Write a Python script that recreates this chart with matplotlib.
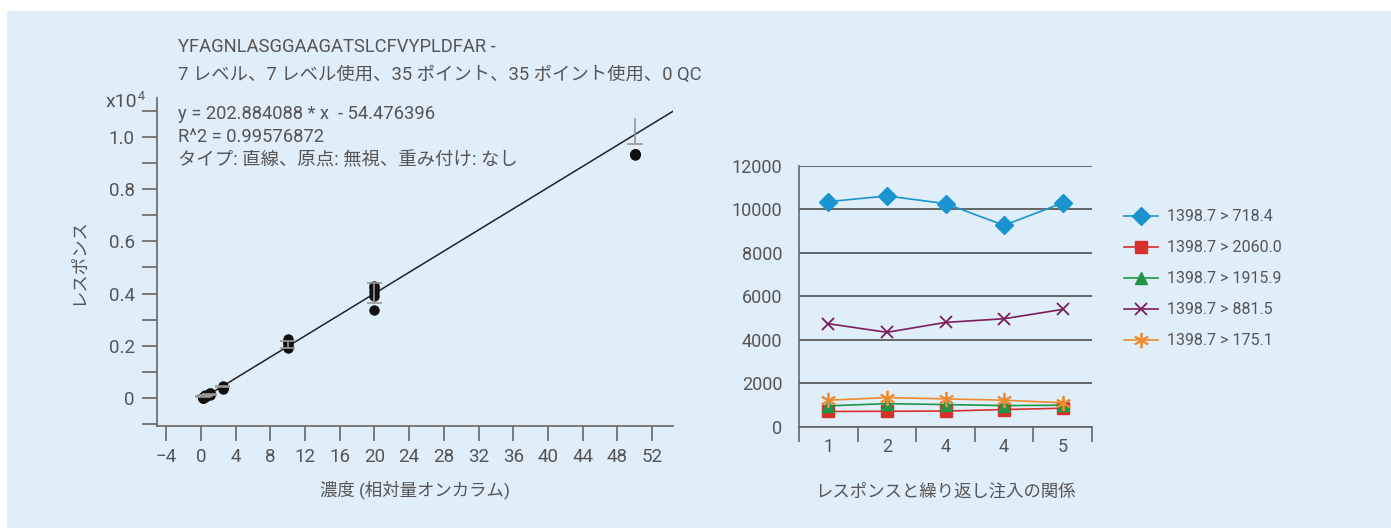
import numpy as np
import matplotlib
matplotlib.use('Agg')
import matplotlib.pyplot as plt
from matplotlib.patches import Rectangle
from matplotlib.ticker import MultipleLocator, FixedLocator, NullFormatter, FixedFormatter

plt.rcParams['font.family'] = ['Roboto', 'Noto Sans CJK JP', 'DejaVu Sans']

# ---- 左: 検量線 データ (x10^4) ----
conc_levels = [0.25, 0.5, 1.0, 2.5, 10, 20, 50]
resp_points = [
    [0.002, 0.004, 0.000, 0.003, 0.001],
    [0.006, 0.009, 0.004, 0.010, 0.007],
    [0.014, 0.018, 0.012, 0.020, 0.016],
    [0.038, 0.044, 0.041, 0.047, 0.035],
    [0.190, 0.200, 0.215, 0.225, 0.210],
    [0.390, 0.405, 0.420, 0.430, 0.338],
    [0.932, 0.935, 0.933, 0.934, 0.936],
]
bar_lo = [0.005, 0.008, 0.010, 0.043, 0.192, 0.364, 0.973]
bar_hi = [0.008, 0.012, 0.015, 0.046, 0.219, 0.441, 1.073]
top_cap = [True, True, True, True, True, True, False]
slope = 202.884088
intercept = -54.476396

# ---- 右: 繰り返し注入 ----
inj_labels = ['1', '2', '4', '4', '5']
series_names = ['1398.7 > 718.4', '1398.7 > 2060.0', '1398.7 > 1915.9',
                '1398.7 > 881.5', '1398.7 > 175.1']
s_718 = [10360, 10620, 10270, 9270, 10300]
s_2060 = [700, 710, 720, 790, 850]
s_1915 = [960, 1060, 1020, 970, 990]
s_881 = [4740, 4345, 4800, 4970, 5400]
s_175 = [1220, 1340, 1280, 1220, 1100]

bg = '#e0eef9'
txt = '#555555'
spine_c = '#666666'

fig = plt.figure(figsize=(13.91, 5.28), dpi=100)
fig.patch.set_facecolor('white')
fig.patches.append(Rectangle((7 / 1391, 0), 1, 1 - 11 / 528, transform=fig.transFigure,
                             facecolor=bg, edgecolor='none', zorder=-10))

# ---------------- 左 ----------------
ax = fig.add_axes([157 / 1391, 102 / 528, 516 / 1391, 328 / 528])
ax.set_facecolor('none')
ax.set_xlim(-5.05, 54.4)
ax.set_ylim(-0.107, 1.149)

# 誤差バー (灰色)
cap_w = 0.9
ax.vlines(conc_levels, bar_lo, bar_hi, color='#999999', lw=1.2, zorder=4)
for c, lo, hi, tc in zip(conc_levels, bar_lo, bar_hi, top_cap):
    ax.hlines(lo, c - cap_w, c + cap_w, color='#999999', lw=1.2, zorder=4)
    if tc:
        ax.hlines(hi, c - cap_w, c + cap_w, color='#999999', lw=1.2, zorder=4)

for c, ys in zip(conc_levels, resp_points):
    ax.plot([c] * len(ys), ys, 'o', color='#111111', ms=6.5, zorder=3)

xl = np.array([0, 54.4])
ax.plot(xl, (slope * xl + intercept) / 1e4, color='#222222', lw=1.1, zorder=2)

ax.xaxis.set_major_locator(FixedLocator(np.arange(-4, 53, 4)))
ax.yaxis.set_major_locator(FixedLocator([0, 0.2, 0.4, 0.6, 0.8, 1.0]))
ax.yaxis.set_major_formatter(FixedFormatter(['0', '0.2', '0.4', '0.6', '0.8', '1.0']))
ax.yaxis.set_minor_locator(FixedLocator([-0.1, 0.1, 0.3, 0.5, 0.7, 0.9, 1.1]))
ax.tick_params(axis='both', which='both', direction='out', length=11, width=1.2,
               color=spine_c, labelcolor=txt, labelsize=13.5, pad=5)
for s in ['top', 'right']:
    ax.spines[s].set_visible(False)
for s in ['left', 'bottom']:
    ax.spines[s].set_color(spine_c)
    ax.spines[s].set_linewidth(1.2)

ax.set_xlabel('濃度 (相対量オンカラム)', color=txt, fontsize=12.5, labelpad=10)
ax.set_ylabel('レスポンス', color=txt, fontsize=12.5, labelpad=16)

fs_note = 13.2
fig.text(178 / 1391, 1 - 47 / 528, 'YFAGNLASGGAAGATSLCFVYPLDFAR -', color=txt,
         fontsize=fs_note, va='center')
fig.text(178 / 1391, 1 - 75 / 528, '7 レベル、7 レベル使用、35 ポイント、35 ポイント使用、0 QC',
         color=txt, fontsize=fs_note, va='center')
fig.text(106 / 1391, 1 - 102 / 528, 'x10', color=txt, fontsize=14, va='center')
fig.text(137.5 / 1391, 1 - 96 / 528, '4', color=txt, fontsize=9, va='center')
eq_lines = ['y = 202.884088 * x  - 54.476396', 'R^2 = 0.99576872',
            'タイプ: 直線、原点: 無視、重み付け: なし']
for i, t in enumerate(eq_lines):
    fig.text(178 / 1391, 1 - (114 + 23 * i) / 528, t, color=txt, fontsize=fs_note, va='center')

# ---------------- 右 ----------------
ax2 = fig.add_axes([799 / 1391, 101.3 / 528, 293 / 1391, 260.7 / 528])
ax2.set_facecolor('none')
xs = np.arange(1, 6)
ax2.plot(xs, s_718, color='#1a94d0', marker='D', ms=9, lw=1.2, label=series_names[0])
ax2.plot(xs, s_2060, color='#d8302a', marker='s', ms=8, lw=1.2, label=series_names[1])
ax2.plot(xs, s_1915, color='#1f9547', marker='^', ms=9, lw=1.2, label=series_names[2])
ax2.plot(xs, s_881, color='#7a1f5e', marker='x', ms=9, mew=1.3, lw=1.2, label=series_names[3])
ax2.plot(xs, s_175, color='#f08a30', marker=(6, 2, 0), ms=11, mew=1.3, lw=1.2,
         label=series_names[4])

ax2.set_xlim(0.5, 5.5)
ax2.set_ylim(0, 12000)
ax2.yaxis.set_major_locator(MultipleLocator(2000))
ax2.grid(axis='y', color='#5a5a5a', lw=1.3)
ax2.set_axisbelow(True)
ax2.xaxis.set_major_locator(FixedLocator(np.arange(0.5, 5.6, 1)))
ax2.xaxis.set_major_formatter(NullFormatter())
ax2.xaxis.set_minor_locator(FixedLocator(xs))
ax2.xaxis.set_minor_formatter(FixedFormatter(inj_labels))
ax2.tick_params(axis='x', which='major', length=11, width=1.2, color=spine_c)
ax2.tick_params(axis='x', which='minor', length=0, labelcolor=txt, labelsize=13, pad=8)
ax2.tick_params(axis='y', length=0, labelcolor=txt, labelsize=13, pad=12)
for s in ['top', 'right']:
    ax2.spines[s].set_visible(False)
for s in ['left', 'bottom']:
    ax2.spines[s].set_color(spine_c)
    ax2.spines[s].set_linewidth(1.2)
ax2.set_xlabel('レスポンスと繰り返し注入の関係', color=txt, fontsize=12.5, labelpad=20)

fig.legend(loc='upper left', bbox_to_anchor=(1110 / 1391, 1 - 195 / 528), frameon=False,
           fontsize=11.5, labelcolor=txt, handlelength=2.1, labelspacing=1.0,
           handletextpad=0.55)

fig.savefig('out.png', dpi=100, facecolor=fig.get_facecolor())
